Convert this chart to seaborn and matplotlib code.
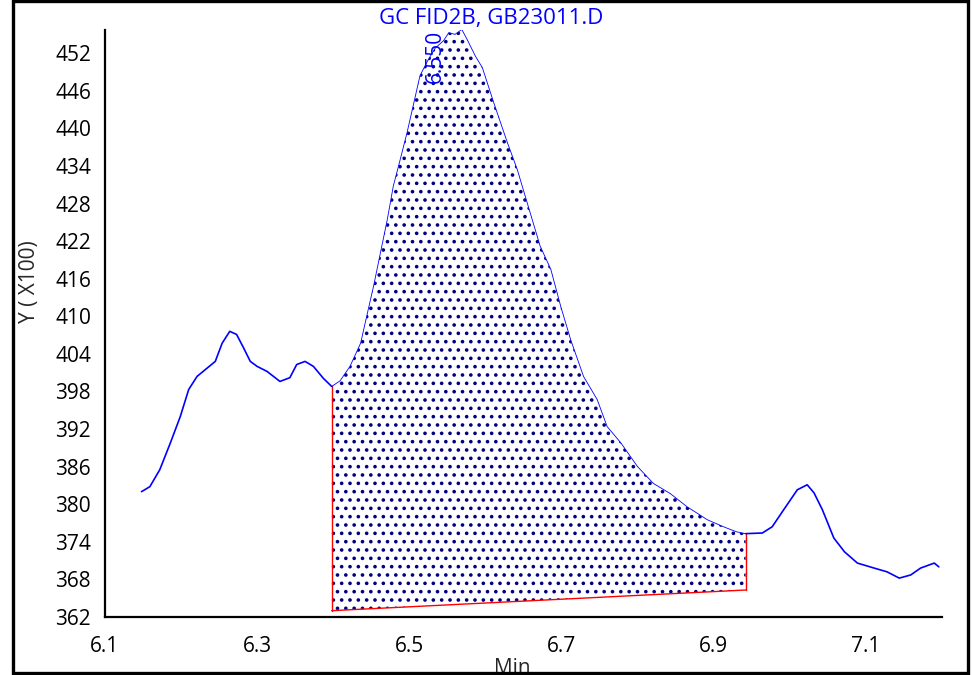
import numpy as np
import pandas as pd
import matplotlib
matplotlib.use("Agg")
import matplotlib.pyplot as plt
from matplotlib.patches import Rectangle
import seaborn as sns

# chromatogram trace (time in min, signal in x100)
time = [6.148, 6.159, 6.172, 6.186, 6.199, 6.210, 6.221, 6.234, 6.245, 6.254,
        6.264, 6.273, 6.282, 6.291, 6.300, 6.313, 6.330, 6.343, 6.352, 6.363,
        6.374, 6.387, 6.398, 6.409, 6.422, 6.436, 6.444, 6.453, 6.462, 6.471,
        6.479, 6.488, 6.497, 6.506, 6.514, 6.525, 6.534, 6.545, 6.552, 6.560,
        6.569, 6.576, 6.587, 6.596, 6.611, 6.629, 6.642, 6.655, 6.672, 6.686,
        6.699, 6.712, 6.729, 6.747, 6.760, 6.778, 6.800, 6.821, 6.843, 6.865,
        6.892, 6.915, 6.930, 6.942, 6.964, 6.977, 6.992, 7.010, 7.023, 7.032,
        7.043, 7.058, 7.072, 7.089, 7.111, 7.128, 7.144, 7.159, 7.172, 7.190,
        7.196]
signal = [382.0, 382.8, 385.5, 389.8, 394.0, 398.3, 400.4, 401.7, 402.8, 405.7,
          407.6, 407.1, 405.0, 402.8, 402.0, 401.2, 399.6, 400.2, 402.3, 402.8,
          402.0, 400.1, 398.8, 399.7, 402.0, 405.7, 410.0, 414.8, 420.1, 425.4,
          430.8, 435.0, 439.3, 444.1, 448.4, 451.0, 452.8, 454.0, 455.3, 455.0,
          455.8, 454.2, 451.5, 449.7, 444.1, 437.7, 433.4, 428.1, 421.2, 417.5,
          411.6, 406.3, 400.4, 396.7, 392.4, 389.8, 386.0, 383.3, 381.7, 379.6,
          377.5, 376.3, 375.6, 375.3, 375.4, 376.4, 379.1, 382.3, 383.1, 381.8,
          379.1, 374.6, 372.4, 370.6, 369.8, 369.2, 368.2, 368.7, 369.8, 370.6,
          370.0]

# integration baseline (start / end of the peak)
base_time = [6.398, 6.942]
base_signal = [363.0, 366.3]

peak_time = 6.550
peak_label = "6.550"

x_ticks = [6.1, 6.2, 6.3, 6.4, 6.5, 6.6, 6.7, 6.8, 6.9, 7.0, 7.1, 7.2]
x_tick_labels = ["6.1", "", "6.3", "", "6.5", "", "6.7", "", "6.9", "", "7.1", ""]
y_ticks = [362, 368, 374, 380, 386, 392, 398, 404, 410, 416,
           422, 428, 434, 440, 446, 452]
y_tick_labels = [str(v) for v in y_ticks]

title = "GC FID2B, GB23011.D"

sns.set_theme(style="white")
plt.rcParams["font.family"] = ["Open Sans", "DejaVu Sans"]
plt.rcParams["hatch.linewidth"] = 1.4

df = pd.DataFrame({"time": time, "signal": signal})
t = df["time"].to_numpy()
s = df["signal"].to_numpy()

fig = plt.figure(figsize=(9.72, 6.75), dpi=100)
ax = fig.add_axes([0.108, 0.086, 0.861, 0.8695])

# dotted area between trace and baseline
inside = (t >= base_time[0]) & (t <= base_time[1])
base_line = np.interp(t[inside], base_time, base_signal)
ax.fill_between(t[inside], base_line, s[inside], facecolor="white",
                edgecolor="#000080", hatch="..", linewidth=0, zorder=1)

# trace: thinner where it sits on the integrated peak
left = df[df["time"] <= base_time[0]]
mid = df[inside]
right = df[df["time"] >= base_time[1]]
for part, lw in [(left, 1.2), (mid, 0.6), (right, 1.2)]:
    sns.lineplot(data=part, x="time", y="signal", ax=ax, color="#0000ff",
                 linewidth=lw, estimator=None, sort=False, zorder=3)

# red baseline drop lines
s0 = np.interp(base_time[0], t, s)
s1 = np.interp(base_time[1], t, s)
ax.plot([base_time[0], base_time[0]], [base_signal[0], s0], color="red", lw=1.0, zorder=2)
ax.plot(base_time, base_signal, color="red", lw=1.0, zorder=2)
ax.plot([base_time[1], base_time[1]], [base_signal[1], s1], color="red", lw=1.0, zorder=2)

ax.text(peak_time - 0.016, 447.3, peak_label, rotation=90, color="#0000ff",
        fontsize=15, ha="center", va="bottom", zorder=4)

ax.set_xlim(6.1, 7.2)
ax.set_ylim(362, 455.7)
ax.set_xticks(x_ticks)
ax.set_xticklabels(x_tick_labels)
ax.set_yticks(y_ticks)
ax.set_yticklabels(y_tick_labels)
ax.tick_params(axis="both", direction="out", length=7, width=1.5, color="black",
               labelsize=15, labelcolor="black")
ax.tick_params(axis="x", pad=7)
ax.tick_params(axis="y", pad=3)
ax.set_xlabel("")
ax.set_ylabel("")
for side in ["top", "right"]:
    ax.spines[side].set_visible(False)
for side in ["left", "bottom"]:
    ax.spines[side].set_color("black")
    ax.spines[side].set_linewidth(1.6)

fig.text(0.505, 0.973, title, color="#0000ff", fontsize=16, ha="center", va="center")
fig.text(0.03, 0.583, "Y ( X100)", rotation=90, fontsize=15, ha="center", va="center")
fig.text(0.527, -0.006, "Min", fontsize=15, ha="center", va="bottom")

# outer frame
fig.patches.append(Rectangle((0.013, 0.003), 0.983, 0.995, transform=fig.transFigure,
                             fill=False, edgecolor="black", linewidth=2.4, zorder=10))

fig.savefig("out.png", dpi=100)
